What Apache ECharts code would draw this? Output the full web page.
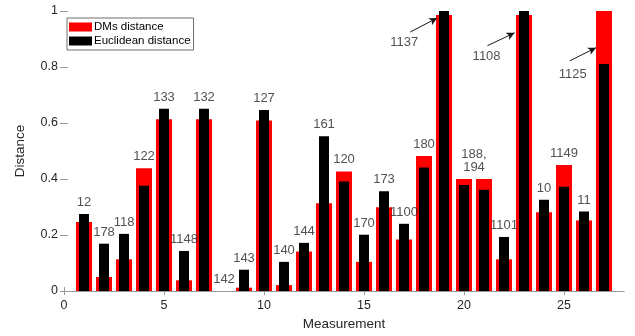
<!DOCTYPE html>
<html>
<head>
<meta charset="utf-8">
<script src="https://cdn.jsdelivr.net/npm/echarts@6/dist/echarts.min.js"></script>
<style>
  html, body { margin: 0; padding: 0; background: #fff; }
  #chart { width: 635px; height: 336px; }
</style>
</head>
<body>
<div id="chart"></div>
<script>
// Measurement index for each pair of bars
const measurements = [1, 2, 3, 4, 5, 6, 7, 8, 9, 10, 11, 12, 13, 14, 15, 16, 17, 18, 19, 20, 21, 22, 23, 24, 25, 26, 27];

// Distance computed with the DMs method
const dmsDistance = [0.246, 0.050, 0.113, 0.438, 0.613, 0.038, 0.613, 0.000, 0.012, 0.609,
                     0.021, 0.141, 0.313, 0.427, 0.104, 0.299, 0.184, 0.482, 0.986, 0.400,
                     0.400, 0.113, 0.986, 0.281, 0.450, 0.252, 1.000];

// Plain Euclidean distance
const euclideanDistance = [0.275, 0.169, 0.204, 0.376, 0.651, 0.143, 0.651, 0.000, 0.076, 0.646,
                           0.104, 0.172, 0.553, 0.391, 0.201, 0.356, 0.240, 0.441, 1.000, 0.379,
                           0.362, 0.193, 1.000, 0.326, 0.372, 0.284, 0.811];

// Point id written above each pair (empty where the id is placed separately)
const pointIds = ['12', '178', '118', '122', '133', '1148', '132', '142', '143', '127',
                  '140', '144', '161', '120', '170', '173', '1100', '180', '', '',
                  '', '1101', '', '10', '1149', '11', ''];

// Shared id for measurements 20 and 21
const sharedIdText = '188,\n194';
const sharedIdMeasurements = [20, 21];

// Ids pointed at with an arrow: text anchor and arrow start/end in data units
const arrowIds = ['1137', '1108', '1125'];
const arrowTextAt = [[17.01, 0.886], [21.13, 0.837], [25.44, 0.773]];
const arrowFrom = [[17.31, 0.925], [21.17, 0.876], [25.29, 0.822]];
const arrowTo = [[18.66, 0.975], [22.53, 0.922], [26.60, 0.869]];

// Axis ticks
const xTicks = [0, 5, 10, 15, 20, 25];
const yTicks = [0, 0.2, 0.4, 0.6, 0.8, 1];
const xRange = [0, 28];
const yRange = [0, 1];

const FONT = '"Liberation Sans", Arial, Helvetica, sans-serif';
const TEXT = '#262626';
const AXIS = '#9a9a9a';

const chart = echarts.init(document.getElementById('chart'), null, { renderer: 'canvas' });

const idPoints = measurements
  .map((m, i) => [m, Math.max(dmsDistance[i], euclideanDistance[i]), pointIds[i]])
  .filter(p => p[2] !== '');

const sharedIdx = sharedIdMeasurements.map(m => measurements.indexOf(m));
const sharedTop = Math.max(...sharedIdx.map(i => Math.max(dmsDistance[i], euclideanDistance[i])));
const sharedX = sharedIdMeasurements.reduce((a, b) => a + b, 0) / sharedIdMeasurements.length;

const arrowTextPoints = arrowIds.map((t, i) => [arrowTextAt[i][0], arrowTextAt[i][1], t]);
const arrowLines = arrowIds.map((t, i) => [{ coord: arrowFrom[i] }, { coord: arrowTo[i] }]);

const xAxisBase = {
  type: 'value', min: xRange[0], max: xRange[1], interval: 5,
  splitLine: { show: false },
  axisLine: { show: true, lineStyle: { color: AXIS, width: 1 } }
};
const yAxisBase = {
  type: 'value', min: yRange[0], max: yRange[1], interval: 0.2,
  splitLine: { show: false },
  axisLine: { show: false }
};

chart.setOption({
  animation: false,
  backgroundColor: '#fff',
  textStyle: { fontFamily: FONT, color: TEXT },
  grid: { left: 64, right: 11, top: 11, bottom: 43.5, containLabel: false },
  legend: {
    left: 67, top: 18,
    orient: 'vertical',
    itemWidth: 23, itemHeight: 9, itemGap: 2,
    padding: [3, 3, 3, 2],
    backgroundColor: '#fff',
    borderColor: '#6e6e6e', borderWidth: 1,
    icon: 'rect',
    textStyle: { fontFamily: FONT, fontSize: 11.5, color: '#000', padding: [0, 0, 0, -3] },
    data: ['DMs distance', 'Euclidean distance']
  },
  xAxis: [
    Object.assign({}, xAxisBase, {
      position: 'bottom',
      name: 'Measurement', nameLocation: 'middle', nameGap: 26,
      nameTextStyle: { fontFamily: FONT, fontSize: 13.5, color: TEXT },
      axisTick: { show: true, inside: true, length: 4, customValues: xTicks, lineStyle: { color: AXIS } },
      axisLabel: { show: true, margin: 8, customValues: xTicks, fontFamily: FONT, fontSize: 12.5, color: TEXT }
    }),
    Object.assign({}, xAxisBase, {
      position: 'top',
      axisTick: { show: true, inside: true, length: 4, customValues: xTicks, lineStyle: { color: AXIS } },
      axisLabel: { show: false }
    })
  ],
  yAxis: [
    Object.assign({}, yAxisBase, {
      position: 'left',
      name: 'Distance', nameLocation: 'middle', nameGap: 37, nameRotate: 90,
      nameTextStyle: { fontFamily: FONT, fontSize: 13.5, color: TEXT },
      axisTick: { show: true, inside: false, length: 4, customValues: yTicks, lineStyle: { color: AXIS } },
      axisLabel: { show: true, margin: 6, customValues: yTicks, fontFamily: FONT, fontSize: 12.5, color: TEXT }
    }),
    Object.assign({}, yAxisBase, {
      position: 'right',
      axisTick: { show: true, inside: false, length: 4, customValues: yTicks, lineStyle: { color: AXIS } },
      axisLabel: { show: false }
    })
  ],
  series: [
    {
      name: 'DMs distance', type: 'bar',
      xAxisIndex: 0, yAxisIndex: 0,
      barWidth: 16,
      itemStyle: { color: '#ff0000' },
      data: measurements.map((m, i) => [m, dmsDistance[i]]),
      z: 2
    },
    {
      name: 'Euclidean distance', type: 'bar',
      xAxisIndex: 1, yAxisIndex: 0,
      barWidth: 10,
      itemStyle: { color: '#000000' },
      data: measurements.map((m, i) => [m, euclideanDistance[i]]),
      z: 3
    },
    {
      name: 'ids', type: 'scatter',
      xAxisIndex: 0, yAxisIndex: 0,
      symbolSize: 0.1, itemStyle: { color: 'rgba(0,0,0,0)' },
      silent: true,
      label: {
        show: true, position: 'top', distance: 5,
        formatter: p => p.value[2],
        fontFamily: FONT, fontSize: 13, color: TEXT
      },
      data: idPoints.concat([[sharedX, sharedTop, sharedIdText]]),
      z: 5
    },
    {
      name: 'arrow ids', type: 'scatter',
      xAxisIndex: 0, yAxisIndex: 0,
      symbolSize: 0.1, itemStyle: { color: 'rgba(0,0,0,0)' },
      silent: true,
      label: {
        show: true, position: 'inside',
        formatter: p => p.value[2],
        fontFamily: FONT, fontSize: 13, color: TEXT
      },
      data: arrowTextPoints,
      markLine: {
        silent: true,
        symbol: ['none', 'arrow'], symbolSize: [6, 8],
        label: { show: false },
        lineStyle: { color: '#1a1a1a', width: 1, type: 'solid' },
        data: arrowLines
      },
      z: 5
    }
  ]
});
</script>
</body>
</html>
